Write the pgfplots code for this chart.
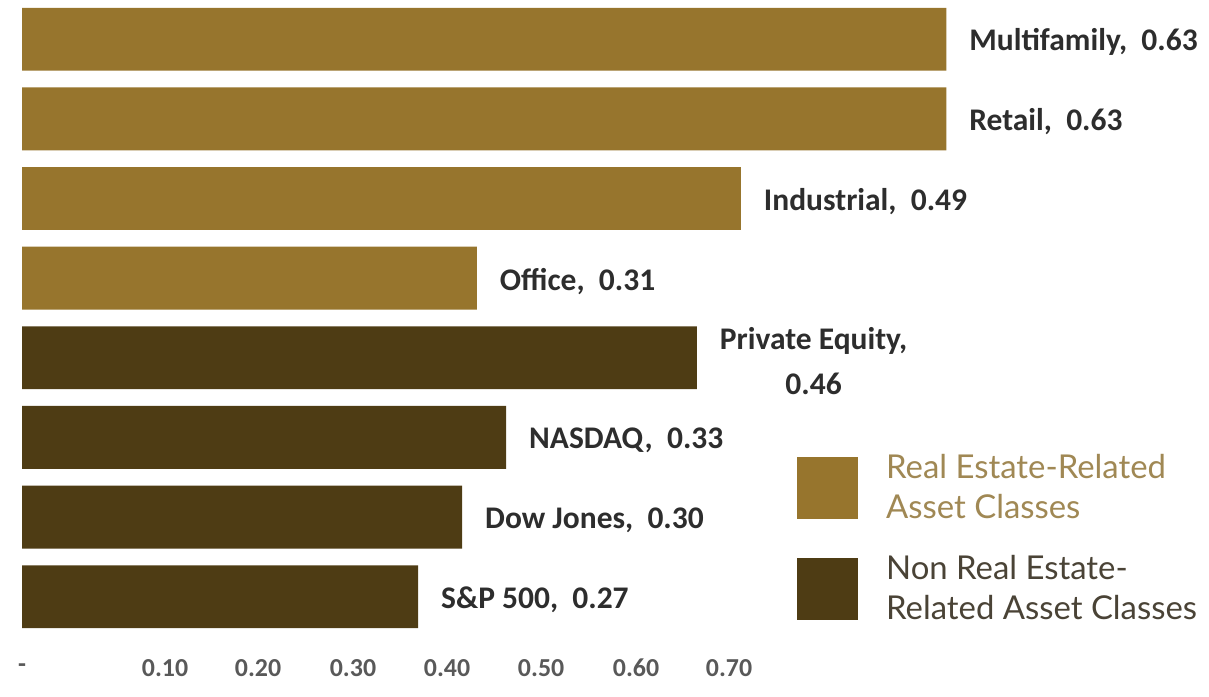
\documentclass[border=0pt]{standalone}
\usepackage{pgfplots}
\pgfplotsset{compat=1.18}
\usepackage{fontspec}
\setmainfont{Carlito}
\newfontfamily\legfont{Lato}
\definecolor{gold}{RGB}{151,117,45}
\definecolor{darkbrown}{RGB}{78,60,20}
\definecolor{goldtext}{RGB}{160,136,84}
\definecolor{darktext}{RGB}{74,67,54}
\definecolor{labeltext}{RGB}{45,45,45}
\begin{document}
\begin{tikzpicture}
\begin{axis}[
  scale only axis,
  width=604.5bp, height=348bp,
  xmin=-0.015, xmax=0.809,
  ymin=-1.249, ymax=7.49,
  axis line style={draw=none},
  major tick length=0pt,
  ytick=\empty,
  xtick={0,0.0975,0.1609,0.2256,0.2897,0.3538,0.4185,0.4819},
  xticklabels={-,0.10,0.20,0.30,0.40,0.50,0.60,0.70},
  /pgf/number format/assume math mode=true,
  xticklabel style={anchor=center, yshift=14bp, font=\fontsize{13}{15}\selectfont\bfseries, text=black!65},
  clip=false,
  xbar, bar width=0.79, bar shift=0pt,
  nodes near coords,
  point meta=explicit symbolic,
  every node near coord/.append style={anchor=west, xshift=8bp, yshift=-1.5bp, align=center,
     font=\fontsize{15.8}{22.5}\selectfont\bfseries, text=labeltext},
  legend style={at={(axis cs:0.5283,1.84)}, anchor=north west, draw=none, fill=none,
     inner sep=0pt, outer sep=0pt, row sep=13bp,
     cells={align=left, anchor=west},
     font=\legfont\fontsize{16.5}{20}\selectfont,
     /tikz/every even column/.append style={column sep=0pt}},
  legend image code/.code={\fill[#1] (0bp,-15.5bp) rectangle (30.5bp,15.5bp);},
  legend cell align=left,
]
\path (rel axis cs:0,0) rectangle (rel axis cs:1,1);
\addplot[fill=gold, draw=none] coordinates {
  (0.63,7) [Multifamily,\ \ 0.63]
  (0.63,6) [Retail,\ \ 0.63]
  (0.49,5) [Industrial,\ \ 0.49]
  (0.31,4) [Office,\ \ 0.31]
};
\addlegendentry{\hspace{12bp}\textcolor{goldtext}{Real Estate-Related}\\\hspace{12bp}\textcolor{goldtext}{Asset Classes}}
\addplot[fill=darkbrown, draw=none] coordinates {
  (0.46,3) [{Private Equity,\\0.46}]
  (0.33,2) [NASDAQ,\ \ 0.33]
  (0.30,1) [Dow Jones,\ \ 0.30]
  (0.27,0) [S\&P 500,\ \ 0.27]
};
\addlegendentry{\hspace{12bp}\textcolor{darktext}{Non Real Estate-}\\\hspace{12bp}\textcolor{darktext}{Related Asset Classes}}
\end{axis}
\end{tikzpicture}
\end{document}
